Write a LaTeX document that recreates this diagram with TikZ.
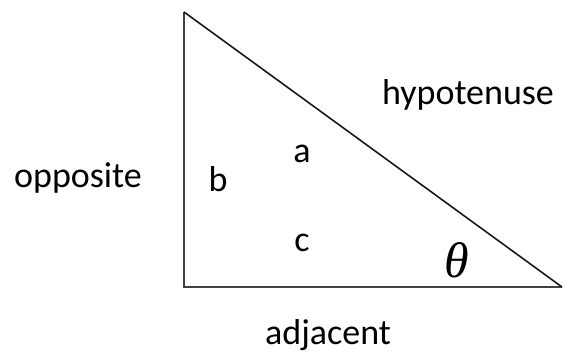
\documentclass[tikz,border=0pt]{standalone}
\usepackage{fontspec}
\setmainfont{Carlito}
\newfontfamily\greekserif{Liberation Serif}
\usepackage{tikz}
\usetikzlibrary{positioning, calc}

\begin{document}
\begin{tikzpicture}[
        x=1pt, y=1pt,
        side/.style={line width=1.6pt, draw=black!75},
        lbl/.style={font=\fontsize{36}{40}\selectfont, inner sep=0pt, anchor=base},
        angle/.style={font=\greekserif\itshape\fontsize{50}{54}\selectfont, inner sep=0pt, anchor=base}
    ]
        \useasboundingbox (0,0) rectangle (564,353);

        % corners of the triangle
        \coordinate (top) at (184,341);
        \coordinate (right) at (562,66);
        \coordinate (corner) at (184,66);

        \draw[side, line join=miter] (top) -- (corner) -- (right);
        \draw[side, draw=black!90] (top) -- (right);

        % side names
        \node[lbl] (opp) at (78,165) {opposite};
        \node[lbl] (hyp) at (468,248) {hypotenuse};
        \node[lbl] (adj) at (328,9) {adjacent};

        % inner labels
        \node[lbl] (b) at (218,161) {b};
        \node[lbl] (a) at (302,190) {a};
        \node[lbl] (c) at (302,101) {c};
        \node[angle] (theta) at (457,75) {θ};

    \end{tikzpicture}
\end{document}
